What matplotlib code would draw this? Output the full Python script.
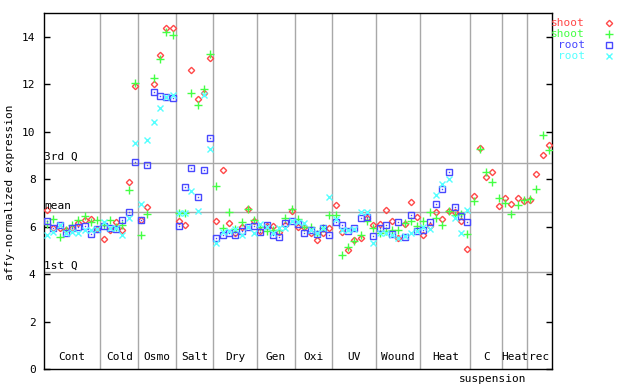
import matplotlib
matplotlib.use("Agg")
import matplotlib.pyplot as plt
import numpy as np

plt.rcParams["font.family"] = "DejaVu Sans Mono"
plt.rcParams["font.size"] = 8

groups = ["Cont", "Cold", "Osmo", "Salt", "Dry", "Gen", "Oxi", "UV",
          "Wound", "Heat", "C", "Heat", "rec"]
group_sizes = [9, 6, 6, 6, 7, 6, 6, 7, 7, 8, 5, 4, 4]

q1, mean, q3 = 4.09, 6.62, 8.69

shoot_red = [6.71, 5.93, 5.96, 5.84, 5.96, 6.15, 6.29, 6.33, 5.91,
             5.49, 5.86, 6.20, 5.86, 7.88, 11.91,
             6.27, 6.82, 12.0, 13.25, 14.35, 14.37,
             6.24, 6.06, 12.6, 11.39, 11.63, 13.1,
             6.23, 8.38, 6.15, 5.75, 5.98, 6.74, 6.25,
             5.81, 6.03, 6.02, 5.79, 6.05, 6.65,
             6.0, 5.97, 5.72, 5.44, 5.72, 5.93,
             6.92, 5.78, 5.01, 5.43, 5.51, 6.36, 6.08,
             6.1, 6.69, 6.23, 5.54, 6.12, 7.03, 6.4,
             5.65, 6.03, 6.6, 6.31, 6.67, 6.6, 6.24, 5.06,
             7.28, 9.31, 8.08, 8.31, 6.86,
             7.2, 6.95, 7.2, 7.07,
             7.11, 8.21, 9.01, 9.44]

shoot_green = [6.12, 6.32, 5.56, 5.86, 6.05, 6.27, 6.44, 6.19, 6.27,
               6.05, 6.29, 6.0, 6.08, 7.54, 12.03,
               5.65, 6.53, 12.26, 13.07, 14.2, 14.07,
               6.57, 6.57, 11.62, 11.12, 11.8, 13.29,
               7.72, 5.95, 6.61, 5.91, 6.18, 6.74, 6.27,
               6.0, 5.82, 5.84, 5.86, 6.35, 6.74,
               6.32, 6.0, 6.0, 5.68, 5.93, 6.48,
               6.47, 4.79, 5.15, 5.4, 5.64, 6.22, 5.93,
               5.73, 5.8, 5.85, 5.86, 6.14, 6.25, 6.02,
               6.24, 6.62, 6.36, 6.08, 6.64, 6.5, 6.54, 5.7,
               7.07, 9.27, 8.31, 7.88, 7.2,
               6.99, 6.53, 6.9, 7.11,
               7.15, 7.58, 9.86, 9.23]

root_blue = [6.24, 5.93, 6.06, 5.72, 5.93, 5.98, 6.02, 5.69, 5.91,
             6.02, 5.93, 5.89, 6.27, 6.61, 8.72,
             6.29, 8.59, 11.67, 11.5, 11.45, 11.42,
             6.02, 7.66, 8.47, 7.24, 8.38, 9.73,
             5.51, 5.65, 5.72, 5.64, 5.82, 5.98, 6.02,
             5.78, 6.05, 5.65, 5.55, 6.16, 6.22,
             6.12, 5.72, 5.84, 5.68, 5.93, 5.64,
             6.19, 6.06, 5.82, 5.92, 6.37, 6.41, 5.61,
             5.92, 6.06, 5.7, 6.2, 5.58, 6.5, 5.82,
             5.86, 6.2, 6.96, 7.59, 8.3, 6.84, 6.44, 6.2]

root_cyan = [5.65, 5.77, 6.06, 5.72, 5.77, 5.75, 5.87, 5.86, 5.91,
             6.18, 5.95, 5.95, 5.65, 6.36, 9.52,
             6.96, 9.66, 10.41, 11.0, 11.45, 11.56,
             6.57, 6.57, 7.5, 6.65, 11.56, 9.27,
             5.3, 5.76, 5.8, 5.91, 5.64, 5.98, 5.72,
             6.12, 6.0, 5.72, 5.94, 5.94, 6.22,
             6.19, 6.17, 5.87, 5.71, 5.93, 7.24,
             6.3, 5.85, 5.85, 5.88, 6.62, 6.62, 5.3,
             5.75, 5.75, 5.65, 5.51, 5.6, 5.73, 5.82,
             5.98, 5.89, 7.33, 7.8, 8.0, 6.35, 5.72, 6.69]

red, green, blue, cyan = "#ff4848", "#44ff44", "#4848ff", "#55ffff"
grid_c = "#a8a8a8"

fig = plt.figure(figsize=(6.4, 3.84), dpi=100)
ax = fig.add_axes([44 / 640, 15 / 384, 508 / 640, 356 / 384])

n = sum(group_sizes)
ax.set_xlim(0, n)
ax.set_ylim(0, 15)

# group separators and quartile lines
bounds = np.cumsum(group_sizes)
for b in bounds[:-1]:
    ax.axvline(b, color=grid_c, lw=1, zorder=1)
for v, lab in [(q3, "3rd Q"), (mean, "mean"), (q1, "1st Q")]:
    ax.axhline(v, color=grid_c, lw=1, zorder=1)
    ax.text(0.05, v + 0.05, lab, ha="left", va="bottom", zorder=5)

# group names inside the bottom of the plot
centers = bounds - np.array(group_sizes) / 2
for c, g in zip(centers, groups):
    ax.text(c, 0.02, g, ha="center", va="bottom",
            transform=ax.get_xaxis_transform())
ax.text(centers[10] + 1.1, -0.028, "suspension", ha="center", va="center",
        transform=ax.get_xaxis_transform())

x_all = np.arange(n) + 0.5
x_root = x_all[:len(root_blue)]

ax.plot(x_all, shoot_red, ls="none", marker="D", ms=3.2, mfc="none",
        mec=red, mew=1, zorder=3)
ax.plot(x_all, shoot_green, ls="none", marker="+", ms=6, mec=green,
        mew=1, zorder=3)
ax.plot(x_root, root_blue, ls="none", marker="s", ms=5, mfc="none",
        mec=blue, mew=1, zorder=3)
ax.plot(x_root, root_blue, ls="none", marker="s", ms=1, mfc=blue,
        mec=blue, mew=0, zorder=3)
ax.plot(x_root, root_cyan, ls="none", marker="x", ms=4.5, mec=cyan,
        mew=1, zorder=3)

ax.set_yticks(range(0, 15, 2))
ax.set_xticks([])
ax.tick_params(axis="y", direction="in", length=4, width=1, pad=6,
               right=True, labelsize=8)
for s in ax.spines.values():
    s.set_linewidth(1)

fig.text(10 / 640, 0.5, "affy-normalized expression", rotation=90,
         ha="center", va="center")

# legend drawn as text beside the plot
leg = [("shoot", red, "D"), ("shoot", green, "+"), ("root", blue, "s"),
       ("root", cyan, "x")]
for k, (lab, col, mk) in enumerate(leg):
    yy = 1 - (23 + 11 * k) / 384
    fig.text(585 / 640, yy, lab, color=col, ha="right", va="center")
    if mk == "D":
        fig.lines.append(plt.Line2D([609 / 640], [yy], marker="D", ms=3.2,
                                    mfc="none", mec=col, mew=1,
                                    transform=fig.transFigure))
    elif mk == "s":
        fig.lines.append(plt.Line2D([609 / 640], [yy], marker="s", ms=5,
                                    mfc="none", mec=col, mew=1,
                                    transform=fig.transFigure))
    else:
        fig.lines.append(plt.Line2D([609 / 640], [yy], marker=mk,
                                    ms=6 if mk == "+" else 4.5, mec=col,
                                    mew=1, transform=fig.transFigure))

fig.savefig("out.png", dpi=100)
